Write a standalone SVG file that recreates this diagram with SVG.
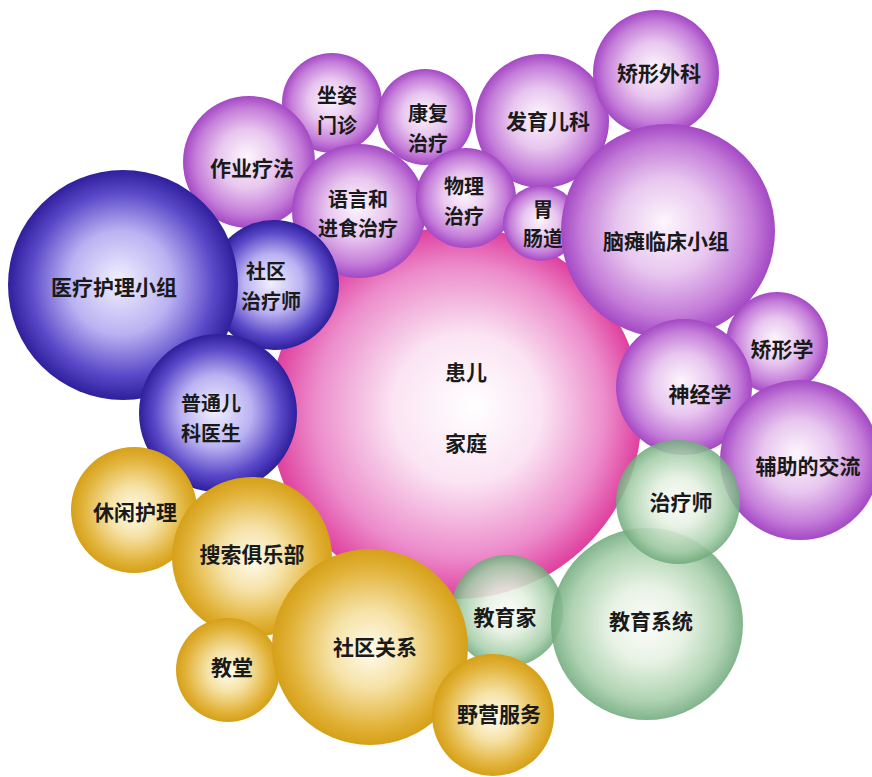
<svg xmlns="http://www.w3.org/2000/svg" width="872" height="777" viewBox="0 0 872 777">
<defs>
<radialGradient id="gPurple" cx="50%" cy="50%" r="50%" fx="48%" fy="46%">
<stop offset="0" stop-color="#fdf6fd"/><stop offset="0.45" stop-color="#e8c6ef"/><stop offset="0.8" stop-color="#c57ed9"/><stop offset="1" stop-color="#a448c4"/>
</radialGradient>
<radialGradient id="gBlue" cx="50%" cy="50%" r="50%" fx="48%" fy="48%">
<stop offset="0" stop-color="#f2f0ff"/><stop offset="0.45" stop-color="#bab2f2"/><stop offset="0.8" stop-color="#5a48c8"/><stop offset="1" stop-color="#2e1f9c"/>
</radialGradient>
<radialGradient id="gPink" cx="50%" cy="50%" r="50%" fx="55%" fy="48%">
<stop offset="0" stop-color="#ffffff"/><stop offset="0.4" stop-color="#fbe4f3"/><stop offset="0.78" stop-color="#ec8ccb"/><stop offset="1" stop-color="#df3f9e"/>
</radialGradient>
<radialGradient id="gGold" cx="50%" cy="50%" r="50%" fx="50%" fy="52%">
<stop offset="0" stop-color="#fffcee"/><stop offset="0.4" stop-color="#f6e2a6"/><stop offset="0.8" stop-color="#e2b43c"/><stop offset="1" stop-color="#d6a018"/>
</radialGradient>
<radialGradient id="gGreen" cx="50%" cy="50%" r="50%" fx="50%" fy="50%">
<stop offset="0" stop-color="#fbfdfa"/><stop offset="0.4" stop-color="#e4f0e0"/><stop offset="0.8" stop-color="#a4cda8"/><stop offset="1" stop-color="#70aa7c"/>
</radialGradient>
</defs>
<style>
.p{fill:url(#gPurple)}
.b{fill:url(#gBlue)}
.k{fill:url(#gPink)}
.g{fill:url(#gGold)}
.e{fill:url(#gGreen);opacity:0.88}
text{font-family:"Noto Sans CJK SC","Noto Sans CJK TC",sans-serif;font-size:21px;font-weight:700;fill:#1a1a1a;text-anchor:middle;dominant-baseline:central}
text.t2{font-size:20px}
</style>
<rect width="872" height="777" fill="#ffffff"/>
<g id="connectors"></g>
<g id="n-family"><circle class="k" cx="456" cy="413" r="186"/><text x="466" y="371">患儿<tspan x="466" dy="71">家庭</tspan></text></g>
<g id="n-zuozi"><circle class="p" cx="332" cy="103" r="50"/><text class="t2" x="337" y="94.5">坐姿<tspan x="337" dy="29">门诊</tspan></text></g>
<g id="n-kangfu"><circle class="p" cx="425" cy="117" r="48"/><text class="t2" x="428" y="112.5">康复<tspan x="428" dy="29">治疗</tspan></text></g>
<g id="n-zuoye"><circle class="p" cx="249" cy="162" r="66"/><text x="252" y="167">作业疗法</text></g>
<g id="n-fayu"><circle class="p" cx="542" cy="121" r="67"/><text x="548" y="120">发育儿科</text></g>
<g id="n-jiaoxingwaike"><circle class="p" cx="656" cy="73" r="63"/><text x="659" y="72">矫形外科</text></g>
<g id="n-yuyan"><circle class="p" cx="359" cy="211" r="67"/><text class="t2" x="358" y="198">语言和<tspan x="358" dy="29">进食治疗</tspan></text></g>
<g id="n-wuli"><circle class="p" cx="466" cy="198" r="50"/><text class="t2" x="464" y="185.5">物理<tspan x="464" dy="29">治疗</tspan></text></g>
<g id="n-weichang"><circle class="p" cx="541" cy="223" r="38"/><text class="t2" x="543" y="208">胃<tspan x="543" dy="29">肠道</tspan></text></g>
<g id="n-naotan"><circle class="p" cx="668" cy="231" r="107"/><text x="666" y="240">脑瘫临床小组</text></g>
<g id="n-jiaoxingxue"><circle class="p" cx="777" cy="343" r="51"/><text x="782" y="348">矫形学</text></g>
<g id="n-shenjing"><circle class="p" cx="684" cy="387" r="68"/><text x="700" y="393">神经学</text></g>
<g id="n-fuzhu"><circle class="p" cx="800" cy="460" r="80"/><text x="808" y="465">辅助的交流</text></g>
<g id="n-shequzhiliao"><circle class="b" cx="274" cy="285" r="65"/><text class="t2" x="266" y="270.5">社区<tspan x="271" dy="29">治疗师</tspan></text></g>
<g id="n-yiliao"><circle class="b" cx="123" cy="285" r="115"/><text x="114" y="286">医疗护理小组</text></g>
<g id="n-putong"><circle class="b" cx="218" cy="413" r="79"/><text class="t2" x="211" y="402.5">普通儿<tspan x="211" dy="29">科医生</tspan></text></g>
<g id="n-jiaoyujia"><circle class="e" cx="507" cy="611" r="56"/><text x="505" y="616">教育家</text></g>
<g id="n-xiuxian"><circle class="g" cx="134" cy="510" r="63"/><text x="135" y="511">休闲护理</text></g>
<g id="n-sousuo"><circle class="g" cx="252" cy="557" r="80"/><text x="252" y="553">搜索俱乐部</text></g>
<g id="n-jiaotang"><circle class="g" cx="228" cy="670" r="52"/><text x="232" y="666">教堂</text></g>
<g id="n-shequguanxi"><circle class="g" cx="370" cy="647" r="98"/><text x="375" y="646">社区关系</text></g>
<g id="n-yeying"><circle class="g" cx="493" cy="715" r="61"/><text x="499" y="713">野营服务</text></g>
<g id="n-jiaoyuxitong"><circle class="e" cx="647" cy="624" r="96"/><text x="651" y="620">教育系统</text></g>
<g id="n-zhiliaoshi"><circle class="e" cx="678" cy="502" r="62"/><text x="681" y="501">治疗师</text></g>
</svg>
